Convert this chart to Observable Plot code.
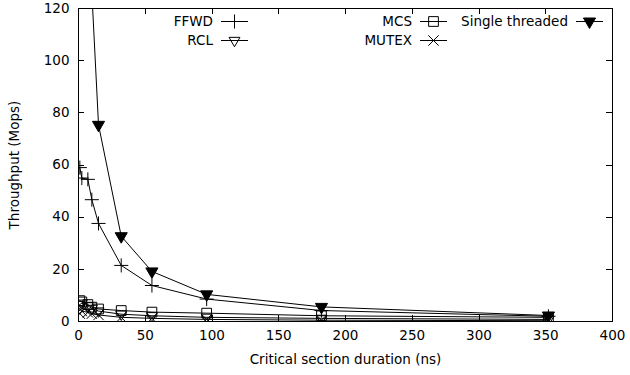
<!DOCTYPE html>
<html><head><meta charset="utf-8">
<script src="https://cdn.jsdelivr.net/npm/d3@7"></script>
<script src="https://cdn.jsdelivr.net/npm/@observablehq/plot@0.6"></script>
<style>body{margin:0;background:#fff} #chart svg{font-family:"DejaVu Sans";}</style>
</head><body><div id="chart"></div>
<script>
// Data
const durations = [1, 2.5, 7, 10, 15, 32, 55, 96, 182, 352];
const ffwd   = [59, 55, 54.5, 46.7, 37.6, 21.5, 13.8, 8.6, 4.2, 2.0];
const rcl    = [6.5, 7, 6, 5, 4, 2.8, 2.2, 1.6, 1.2, 0.8];
const mcs    = [8, 7.5, 6.5, 5.5, 4.8, 4.2, 3.6, 3.2, 2.2, 1.6];
const mutex  = [3, 4, 3.5, 3, 2.5, 1.6, 1.2, 0.8, 0.5, 0.3];
const single = [null, null, null, 126, 75.4, 32.7, 19.2, 10.4, 5.6, 2.3];
const xTicks = [0, 50, 100, 150, 200, 250, 300, 350, 400];
const yTicks = [0, 20, 40, 60, 80, 100, 120];
const xLabel = "Critical section duration (ns)";
const yLabel = "Throughput (Mops)";

const series = [
  {name: "FFWD", values: ffwd, symbol: "plus", r: 4.6, rotate: 0, fill: "none"},
  {name: "RCL", values: rcl, symbol: "triangle2", r: 5.2, rotate: 180, fill: "none"},
  {name: "MCS", values: mcs, symbol: "square2", r: 6.2, rotate: 0, fill: "none"},
  {name: "MUTEX", values: mutex, symbol: "times", r: 4.8, rotate: 0, fill: "none"},
  {name: "Single threaded", values: single, symbol: "triangle", r: 4.5, rotate: 180, fill: "black"}
];

const marks = [];
for (const s of series) {
  const data = durations.map((d, i) => ({x: d, y: s.values[i]})).filter(p => p.y != null);
  marks.push(Plot.line(data, {x: "x", y: "y", stroke: "black", strokeWidth: 1, clip: true}));
  marks.push(Plot.dot(data, {x: "x", y: "y", symbol: s.symbol, r: s.r, rotate: s.rotate,
    stroke: "black", strokeWidth: 1, fill: s.fill, clip: true}));
}

const plot = Plot.plot({
  width: 630, height: 375,
  marginLeft: 78, marginRight: 18, marginTop: 8, marginBottom: 54,
  style: {fontSize: "13.5px", fontFamily: "DejaVu Sans", color: "black", background: "white"},
  x: {domain: [0, 400]},
  y: {domain: [0, 120]},
  marks: [
    Plot.axisX({ticks: xTicks, tickSize: 0, tickPadding: 9, tickFormat: d => String(d),
      label: xLabel, labelAnchor: "center", labelOffset: 42, labelArrow: "none"}),
    Plot.axisY({ticks: yTicks, tickSize: 0, tickPadding: 9, tickFormat: d => String(d),
      label: yLabel, labelAnchor: "center", labelOffset: 69, labelArrow: "none"}),
    ...marks,
    Plot.frame({stroke: "black", strokeWidth: 1})
  ]
});
document.getElementById("chart").appendChild(plot);

// Inward (gnuplot style) ticks and legend, positioned through Plot's scales
const sx = plot.scale("x"), sy = plot.scale("y");
const svg = d3.select(plot);
const tl = 6;
const tg = svg.append("g").attr("stroke", "black").attr("stroke-width", 1);
const [y0, y1] = [sy.apply(0), sy.apply(120)];
const [x0, x1] = [sx.apply(0), sx.apply(400)];
for (const t of xTicks) {
  const px = Math.round(sx.apply(t)) + 0.5;
  tg.append("line").attr("x1", px).attr("x2", px).attr("y1", y0).attr("y2", y0 - tl);
  tg.append("line").attr("x1", px).attr("x2", px).attr("y1", y1).attr("y2", y1 + tl);
}
for (const t of yTicks) {
  const py = Math.round(sy.apply(t)) + 0.5;
  tg.append("line").attr("y1", py).attr("y2", py).attr("x1", x0).attr("x2", x0 + tl);
  tg.append("line").attr("y1", py).attr("y2", py).attr("x1", x1).attr("x2", x1 - tl);
}

// Legend
const symMap = {plus: d3.symbolPlus, triangle2: d3.symbolTriangle2, square2: d3.symbolSquare2, times: d3.symbolTimes, triangle: d3.symbolTriangle};
const legendPos = [
  {tx: 213, y: 21}, {tx: 213, y: 40}, {tx: 412, y: 21}, {tx: 412, y: 40}, {tx: 568, y: 21}
];
const lg = svg.append("g");
series.forEach((s, i) => {
  const p = legendPos[i];
  lg.append("text").attr("x", p.tx).attr("y", p.y).attr("dy", "0.35em").attr("text-anchor", "end")
    .attr("font-size", 13.5).attr("fill", "black").text(s.name);
  const lx0 = p.tx + 8, lx1 = p.tx + 35, cx = (lx0 + lx1) / 2;
  lg.append("line").attr("x1", lx0).attr("x2", lx1).attr("y1", p.y + 0.5).attr("y2", p.y + 0.5).attr("stroke", "black");
  lg.append("path").attr("d", d3.symbol(symMap[s.symbol], Math.PI * s.r * s.r)())
    .attr("transform", `translate(${cx},${p.y + 0.5}) rotate(${s.rotate})`)
    .attr("stroke", "black").attr("fill", s.fill);
});
</script></body></html>
